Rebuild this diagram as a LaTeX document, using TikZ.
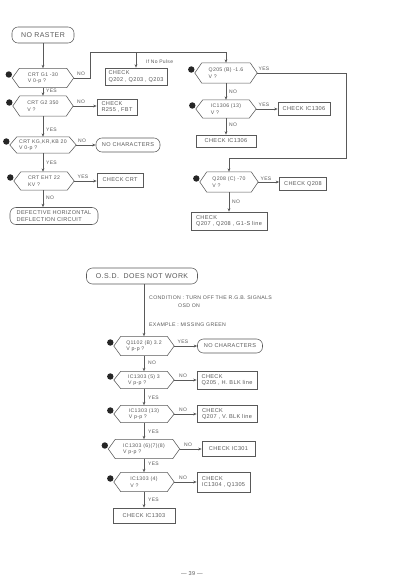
\documentclass[tikz,border=0pt]{standalone}
\usepackage{fontspec}
\setmainfont{Liberation Sans}[LetterSpace=6]
\usetikzlibrary{arrows.meta}
\definecolor{ink}{gray}{0.35}
\begin{document}
\begin{tikzpicture}[x=1pt,y=-1pt,
  ln/.style={draw=ink, line width=0.55pt},
  arr/.style={ln, -{Stealth[length=3.5pt,width=2.8pt]}},
  lab/.style={font=\fontsize{5}{5.5}\selectfont, text=ink, inner sep=0},
  txt/.style={font=\fontsize{5.6}{6.6}\selectfont, text=ink, align=left},
  dec/.style={txt, inner sep=0, font=\fontsize{5.2}{6.4}\selectfont},
  box/.style={txt, draw=ink, line width=0.55pt, inner sep=1pt},
  rbox/.style={box, rounded corners=6pt},
  big/.style={font=\fontsize{7}{8}\selectfont},
  free/.style={txt, anchor=west, inner sep=0, font=\fontsize{5.2}{6}\selectfont}
]
\fill[white] (0,0) rectangle (400,582);
\useasboundingbox (0,0) rectangle (400,582);

% ---------- top left column ----------
\node[rbox, big, minimum width=62pt, minimum height=16pt] (nr) at (43,35) {NO RASTER};
\node[dec, minimum width=61pt, minimum height=19pt] (d1) at (43,78) {CRT G1 -30\\V 0-p ?};
\node[dec, minimum width=60pt, minimum height=20pt] (d2) at (43,106) {CRT G2 350\\V ?};
\node[dec, minimum width=66pt, minimum height=16pt] (d3) at (43,145) {CRT KG,KR,KB 20\\V 0-p ?};
\node[dec, minimum width=60pt, minimum height=18pt] (d4) at (44,181) {CRT EHT 22\\KV ?};
\node[rbox, minimum width=88pt, minimum height=17pt] (def) at (54,216) {DEFECTIVE HORIZONTAL\\DEFLECTION CIRCUIT};

\node[box, minimum width=62pt, minimum height=17pt] (cq202) at (136,76.5) {CHECK\\Q202 , Q203 , Q203};
\node[box, minimum width=40pt, minimum height=16pt] (cr255) at (117,107) {CHECK\\R255 , FBT};
\node[rbox, minimum width=64pt, minimum height=14pt] (noch1) at (128,145) {NO CHARACTERS};
\node[box, minimum width=46pt, minimum height=14pt] (ccrt) at (120,180) {CHECK CRT};

% ---------- right column ----------
\node[dec, minimum width=62pt, minimum height=20pt] (d5) at (226,73) {Q205 (B) -1.6\\V ?};
\node[dec, minimum width=60pt, minimum height=18pt] (d6) at (226,109) {IC1306 (13)\\V ?};
\node[box, minimum width=52pt, minimum height=13pt] (cic1) at (304,108.5) {CHECK IC1306};
\node[box, minimum width=60pt, minimum height=12pt] (cic2) at (226,141) {CHECK IC1306};
\node[dec, minimum width=58pt, minimum height=20pt] (d7) at (229,182) {Q208 (C) -70\\V ?};
\node[box, minimum width=47pt, minimum height=13pt] (cq208) at (303,184) {CHECK Q208};
\node[box, minimum width=76pt, minimum height=18pt] (cq207) at (229,221) {CHECK\\Q207 , Q208 , G1-S line};

\coordinate (t1) at (90,52);
\coordinate (t2) at (346,158);

% ---------- bottom ----------
\node[rbox, big, minimum width=111pt, minimum height=16pt] (osd) at (142,276) {O.S.D.\ \ DOES NOT WORK};
\node[free] (cond) at (149,298) {CONDITION : TURN OFF THE R.G.B. SIGNALS};
\node[free] (osdon) at (178,306) {OSD ON};
\node[free] (ex) at (149,325) {EXAMPLE : MISSING GREEN};

\node[dec, minimum width=60pt, minimum height=19pt] (d8) at (144,346) {Q1102 (B) 3.2\\V p-p ?};
\node[rbox, minimum width=65pt, minimum height=14pt] (noch2) at (230,346) {NO CHARACTERS};
\node[dec, minimum width=60pt, minimum height=17pt] (d9) at (144,380) {IC1303 (5) 3\\V p-p ?};
\node[box, minimum width=60pt, minimum height=18pt] (c205) at (227,380) {CHECK\\Q205 , H. BLK line};
\node[dec, minimum width=60pt, minimum height=17pt] (d10) at (144,414) {IC1303 (13)\\V p-p ?};
\node[box, minimum width=60pt, minimum height=17pt] (c207) at (227,414) {CHECK\\Q207 , V. BLK line};
\node[dec, minimum width=71pt, minimum height=19pt] (d11) at (144,449) {IC1303 (6)(7)(8)\\V p-p ?};
\node[box, minimum width=53pt, minimum height=15pt] (c301) at (228.5,449) {CHECK IC301};
\node[dec, minimum width=60pt, minimum height=19pt] (d12) at (144,482) {IC1303 (4)\\V ?};
\node[box, minimum width=53pt, minimum height=20pt] (c1304) at (223.5,482) {CHECK\\IC1304 , Q1305};
\node[box, minimum width=62pt, minimum height=15pt] (c1303) at (144,515.5) {CHECK IC1303};

\node[txt] (pg) at (192,574) {— 39 —};

% hexagons and dots
\foreach \n in {d1,d2,d3,d4,d5,d6,d7,d8,d9,d10,d11,d12} {
  \draw[ln] (\n.west) -- ([xshift=7pt]\n.north west) -- ([xshift=-7pt]\n.north east)
    -- (\n.east) -- ([xshift=-7pt]\n.south east) -- ([xshift=7pt]\n.south west) -- cycle;
  \fill[black!85] ([xshift=-3.5pt,yshift=3.5pt]\n.west) circle (3.2pt);
}

% ---------- connectors top left ----------
\draw[arr] (nr.south) -- (nr.south |- d1.north);
\draw[arr] (d1.south) -- (d1.south |- d2.north);
\draw[arr] (d2.south) -- (d2.south |- d3.north);
\draw[arr] (d3.south) -- (d3.south |- d4.north);
\draw[arr] (d3.south |- d4.south) -- (d3.south |- def.north);
\draw[arr] (d2.east) -- (d2.east -| cr255.west);
\draw[arr] (d3.east) -- (d3.east -| noch1.west);
\draw[arr] (d4.east) -- (d4.east -| ccrt.west);
\draw[arr] (d1.east) -| (t1) -| (d5.north);
\draw[arr] (cq202.north |- t1) -- (cq202.north);

% right column
\draw[arr] (d5.south) -- (d5.south |- d6.north);
\draw[arr] (d6.south) -- (d6.south |- cic2.north);
\draw[arr] (d6.east) -- (d6.east -| cic1.west);
\draw[arr] (d5.east) -| (t2) -| (d7.north);
\draw[arr] (d7.east) -- (d7.east -| cq208.west);
\draw[arr] (d7.south) -- (d7.south |- cq207.north);

% bottom
\draw[arr] (d8.north |- osd.south) -- (d8.north);
\draw[arr] (d8.east) -- (d8.east -| noch2.west);
\draw[arr] (d8.south) -- (d8.south |- d9.north);
\draw[arr] (d9.east) -- (d9.east -| c205.west);
\draw[arr] (d9.south) -- (d9.south |- d10.north);
\draw[arr] (d10.east) -- (d10.east -| c207.west);
\draw[arr] (d10.south) -- (d10.south |- d11.north);
\draw[arr] (d11.east) -- (d11.east -| c301.west);
\draw[arr] (d11.south) -- (d11.south |- d12.north);
\draw[arr] (d12.east) -- (d12.east -| c1304.west);
\draw[arr] (d12.south) -- (d12.south |- c1303.north);

% ---------- labels ----------
\node[lab] (l1) at (81,74) {NO};
\node[lab, anchor=west] (l2) at (146,62) {If No Pulse};
\node[lab, anchor=west] (l3) at (46,91) {YES};
\node[lab] (l4) at (81,102) {NO};
\node[lab, anchor=west] (l5) at (46,130) {YES};
\node[lab] (l6) at (82,141) {NO};
\node[lab, anchor=west] (l7) at (46,163) {YES};
\node[lab] (l8) at (83,177) {YES};
\node[lab, anchor=west] (l9) at (46,198) {NO};
\node[lab] (l10) at (264,69) {YES};
\node[lab, anchor=west] (l11) at (229,92) {NO};
\node[lab] (l12) at (264,105) {YES};
\node[lab, anchor=west] (l13) at (229,125) {NO};
\node[lab] (l14) at (266,179) {YES};
\node[lab, anchor=west] (l15) at (232,202) {NO};

\node[lab] (m1) at (183,342) {YES};
\node[lab, anchor=west] (m2) at (148,363) {NO};
\node[lab] (m3) at (183,376) {NO};
\node[lab, anchor=west] (m4) at (148,398) {YES};
\node[lab] (m5) at (183,410) {NO};
\node[lab, anchor=west] (m6) at (148,432) {YES};
\node[lab] (m7) at (188,445) {NO};
\node[lab, anchor=west] (m8) at (148,464) {YES};
\node[lab] (m9) at (183,478) {NO};
\node[lab, anchor=west] (m10) at (148,500) {YES};
\end{tikzpicture}
\end{document}
